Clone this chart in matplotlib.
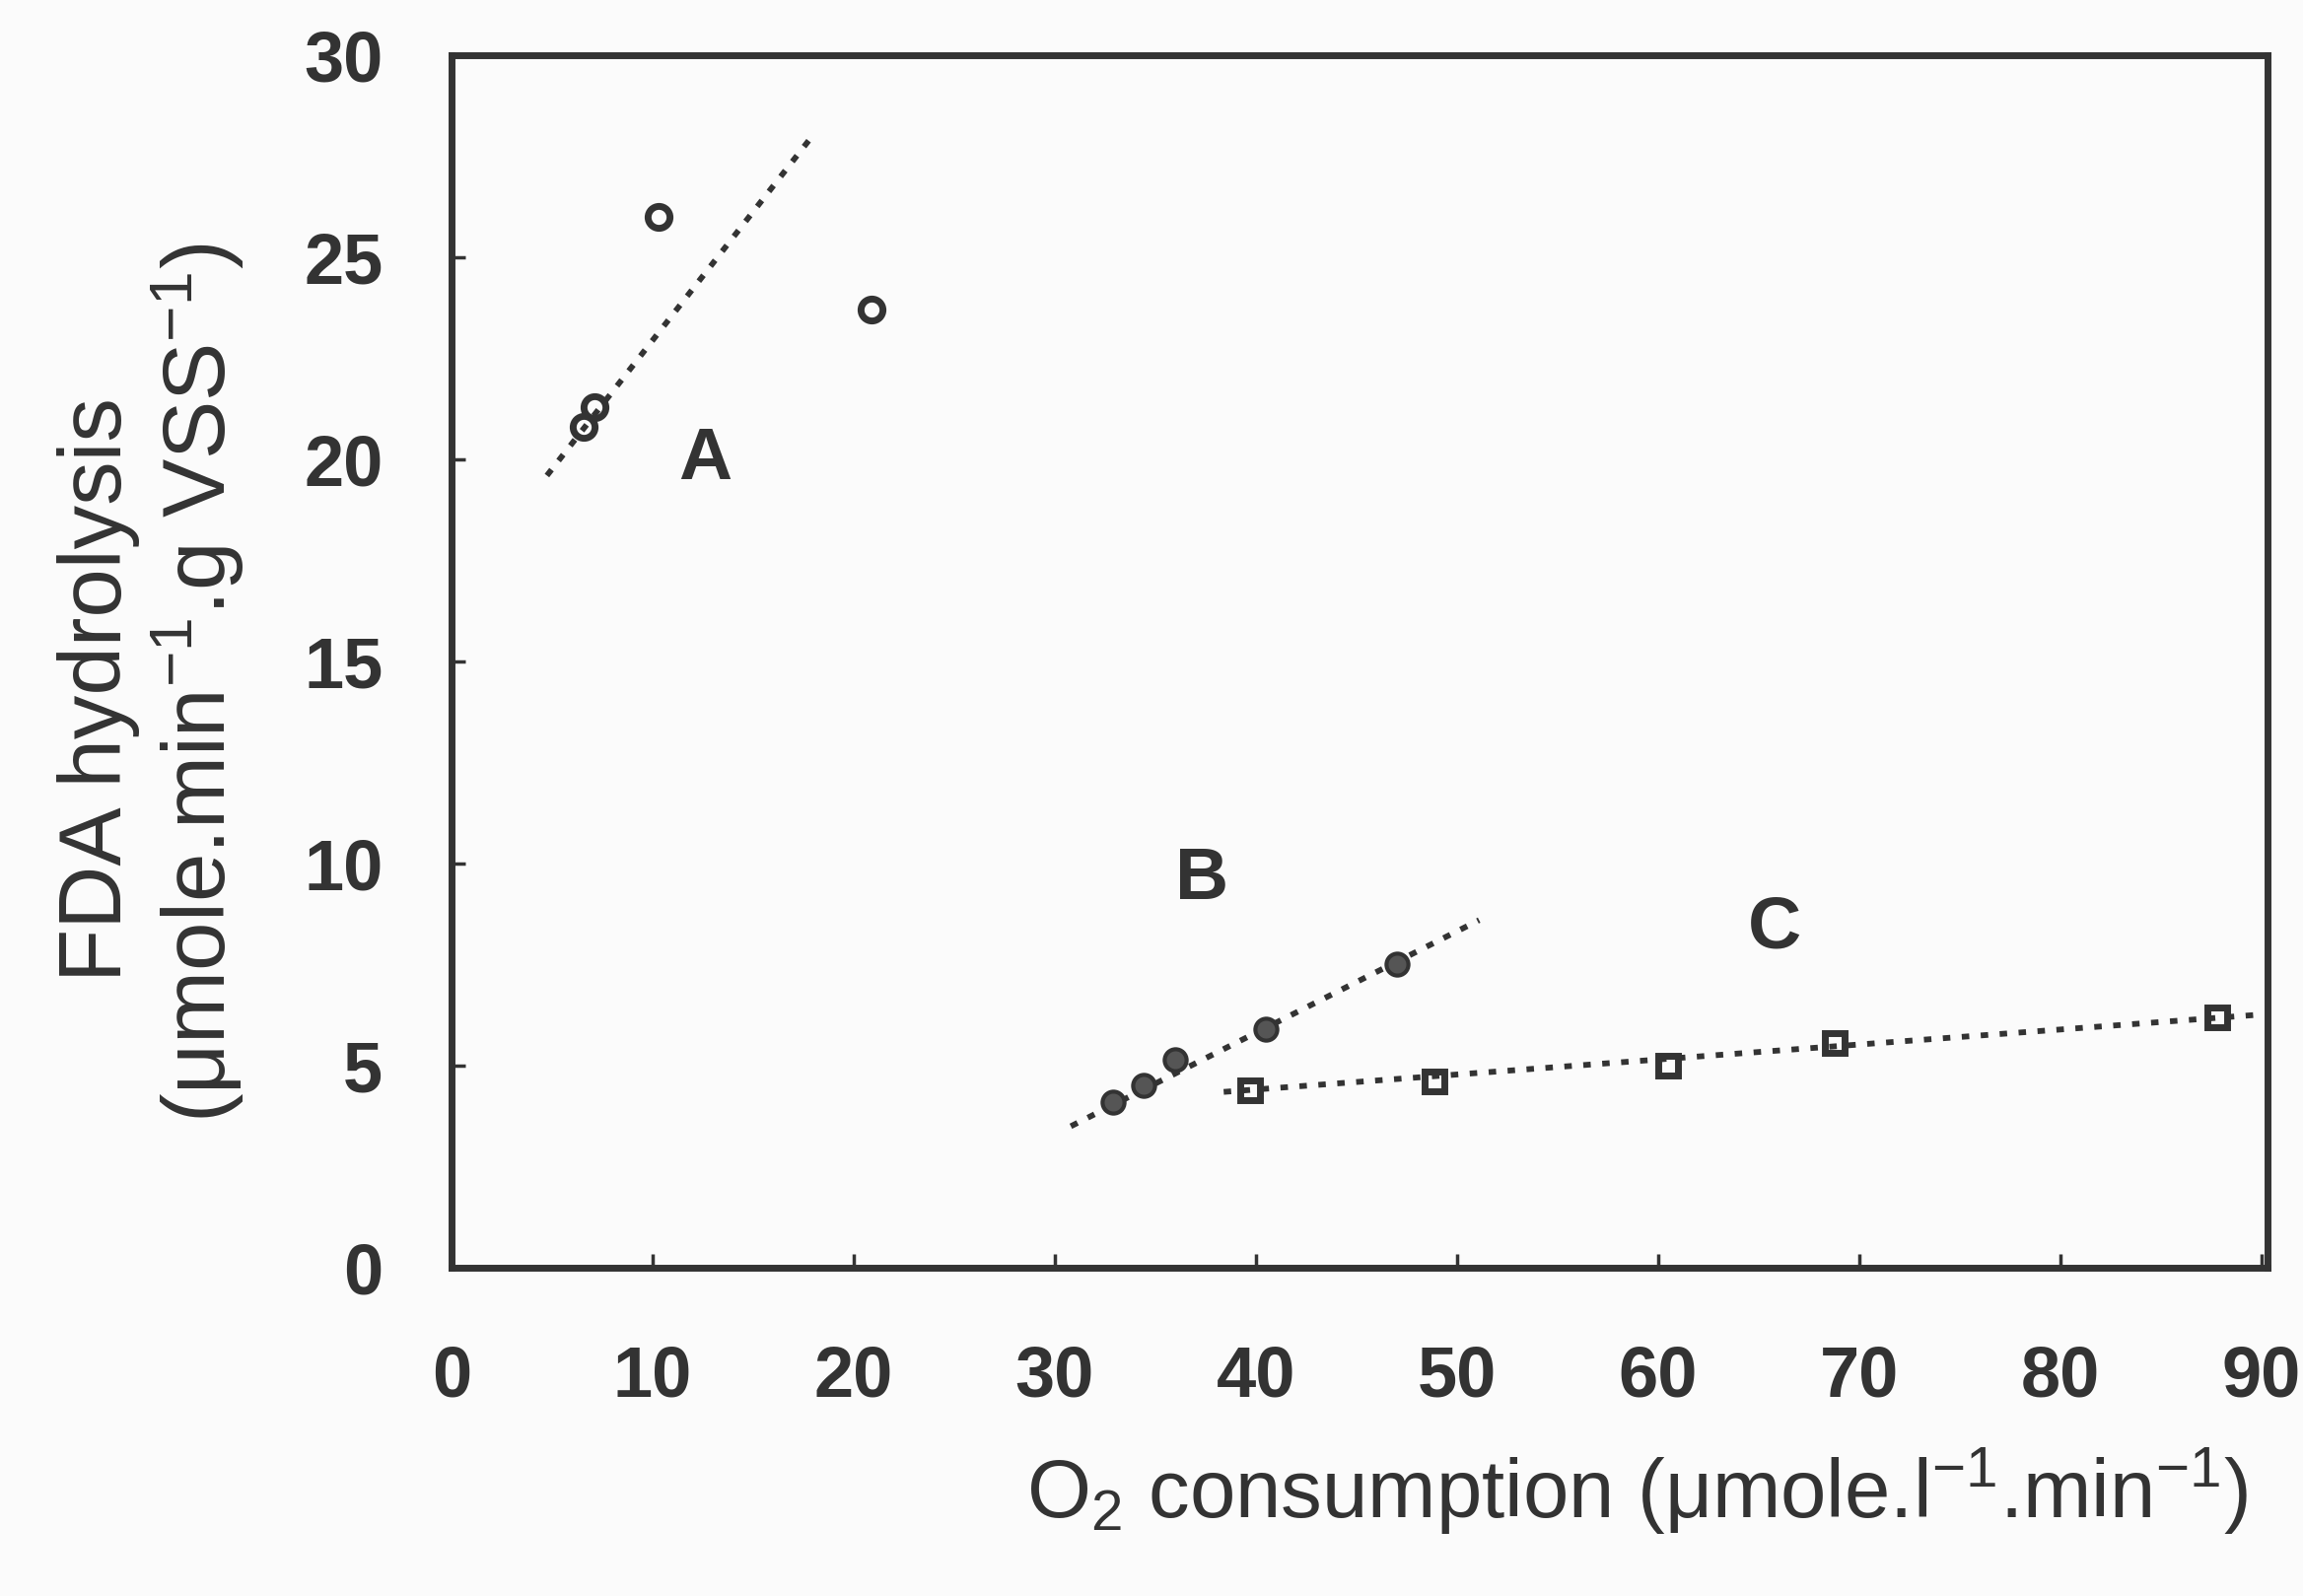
import matplotlib.pyplot as plt

plt.rcParams['font.family'] = ['Liberation Sans Narrow', 'Liberation Sans', 'DejaVu Sans']
plt.rcParams['mathtext.fontset'] = 'custom'
plt.rcParams['mathtext.rm'] = 'Liberation Sans'
plt.rcParams['mathtext.it'] = 'Liberation Sans'

ink = '#333333'

# series A - open circles
a_x = [6.6, 7.1, 10.3, 20.9]
a_y = [20.8, 21.3, 26.0, 23.7]
a_line_x = [4.75, 18.1]
a_line_y = [19.6, 28.1]

# series B - filled circles
b_x = [32.9, 34.4, 36.0, 40.5, 47.0]
b_y = [4.1, 4.5, 5.15, 5.9, 7.5]
b_line_x = [30.8, 51.1]
b_line_y = [3.5, 8.6]

# series C - open squares
c_x = [39.7, 48.9, 60.5, 68.8, 87.8]
c_y = [4.4, 4.6, 5.0, 5.55, 6.2]
c_line_x = [38.4, 89.6]
c_line_y = [4.35, 6.25]

x_ticks = [0, 10, 20, 30, 40, 50, 60, 70, 80, 90]
y_ticks = [0, 5, 10, 15, 20, 25, 30]

fig = plt.figure(figsize=(23.36, 16.19), dpi=100, facecolor='#fbfbfb')
ax = fig.add_axes([0.196, 0.2057, 0.7886, 0.7597])
ax.set_facecolor('#fbfbfb')

dots = (0, (1.3, 2.0))
ax.plot(a_line_x, a_line_y, color=ink, lw=4.2, linestyle=dots)
ax.plot(b_line_x, b_line_y, color=ink, lw=4.2, linestyle=dots)
ax.plot(c_line_x, c_line_y, color=ink, lw=4.2, linestyle=dots)

ax.plot(a_x, a_y, 'o', ms=16, mfc='none', mec=ink, mew=5)
ax.plot(b_x, b_y, 'o', ms=16, mfc='#555555', mec=ink, mew=3)
ax.plot(c_x, c_y, 's', ms=15, mfc='none', mec=ink, mew=5)

ax.text(12.6, 20.0, 'A', fontsize=54, fontweight='bold', color=ink, ha='center', va='center')
ax.text(37.3, 9.6, 'B', fontsize=54, fontweight='bold', color=ink, ha='center', va='center')
ax.text(65.8, 8.4, 'C', fontsize=54, fontweight='bold', color=ink, ha='center', va='center')

ax.set_xlim(0, 90.3)
ax.set_ylim(0, 30)
ax.set_xticks(x_ticks)
ax.set_yticks(y_ticks)
ax.tick_params(direction='in', length=10, width=2.5, color=ink, labelsize=52,
               labelcolor=ink)
ax.tick_params(axis='x', pad=56)
ax.tick_params(axis='y', pad=50)
for lab in ax.get_xticklabels() + ax.get_yticklabels():
    lab.set_fontweight('bold')
for s in ax.spines.values():
    s.set_linewidth(5)
    s.set_color(ink)

fig.text(0.0428, 0.568, 'FDA hydrolysis', rotation=90, fontsize=64, color=ink,
         ha='center', va='center')
fig.text(0.0856, 0.572, r'($\mu$mole.min$^{-1}$.g VSS$^{-1}$)', rotation=90,
         fontsize=64, color=ink, ha='center', va='center')
fig.text(0.976, 0.049, r'O$_{2}$ consumption ($\mu$mole.l$^{-1}$.min$^{-1}$)',
         fontsize=60, color=ink, ha='right', va='baseline')

fig.savefig('out.png', dpi=100, facecolor=fig.get_facecolor())
